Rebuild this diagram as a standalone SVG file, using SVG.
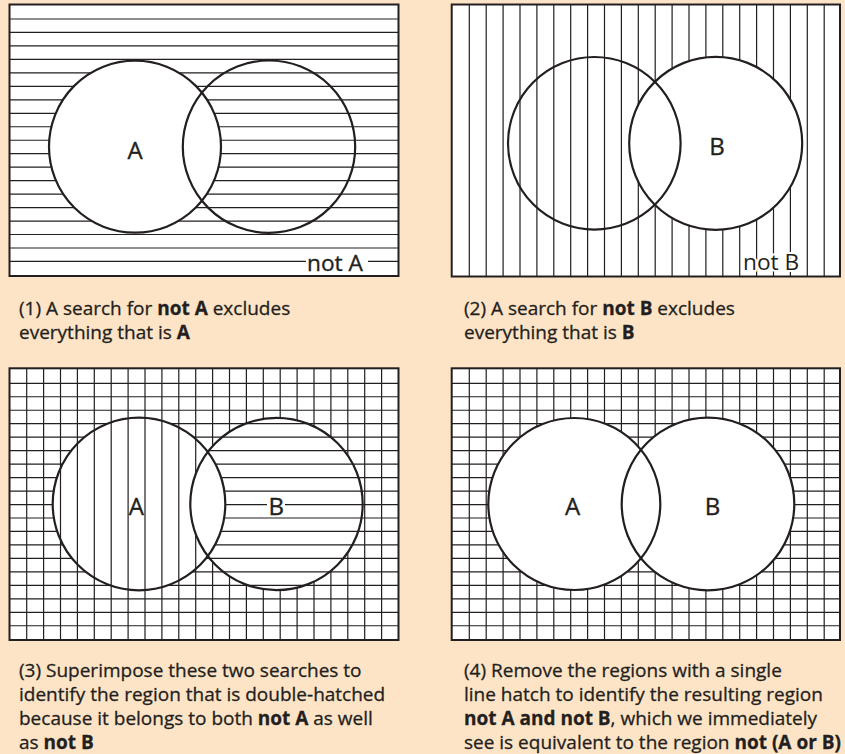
<svg xmlns="http://www.w3.org/2000/svg" xmlns:xlink="http://www.w3.org/1999/xlink" width="845" height="754" viewBox="0 0 845 754">
<style>
.bg{fill:#FEE4C6}
.panel{fill:#ffffff;stroke:none}
.frame{fill:none;stroke:#231F20;stroke-width:2}
.hatch{fill:none;stroke:#231F20;stroke-width:1.2}
.ring{fill:none;stroke:#231F20;stroke-width:2.2}
.hole{fill:#ffffff;stroke:none}
.lbl{font-family:"Open Sans","Noto Sans",sans-serif;font-size:24px;fill:#231F20;stroke:#231F20;stroke-width:0.35;text-anchor:middle}
.tag{font-family:"Open Sans","Noto Sans",sans-serif;font-size:22.7px;fill:#231F20;stroke:#231F20;stroke-width:0.35}
.halo{stroke:#ffffff;stroke-width:4;paint-order:stroke;stroke-linejoin:round}
.cap{font-family:"Open Sans","Noto Sans",sans-serif;font-size:19px;fill:#231F20;stroke:#231F20;stroke-width:0.3}
.b{font-weight:700}
</style>
<defs>
<path id="hlines" class="hatch" d="M0 0H389M0 13.47H389M0 26.94H389M0 40.41H389M0 53.88H389M0 67.35H389M0 80.82H389M0 94.29H389M0 107.76H389M0 121.23H389M0 134.7H389M0 148.17H389M0 161.64H389M0 175.11H389M0 188.58H389M0 202.05H389M0 215.52H389M0 228.99H389M0 242.46H389"/>
<path id="vlines" class="hatch" d="M0 0V272M16.9 0V272M33.8 0V272M50.7 0V272M67.6 0V272M84.5 0V272M101.4 0V272M118.3 0V272M135.2 0V272M152.1 0V272M169 0V272M185.9 0V272M202.8 0V272M219.7 0V272M236.6 0V272M253.5 0V272M270.4 0V272M287.3 0V272M304.2 0V272M321.1 0V272M338 0V272M354.9 0V272"/>
<mask id="notA3" maskUnits="userSpaceOnUse" x="0" y="0" width="845" height="754">
<rect x="0" y="0" width="845" height="754" fill="#ffffff"/>
<circle cx="139" cy="504" r="86.3" fill="#000000"/>
</mask>
<mask id="notB3" maskUnits="userSpaceOnUse" x="0" y="0" width="845" height="754">
<rect x="0" y="0" width="845" height="754" fill="#ffffff"/>
<circle cx="276.5" cy="504" r="86.2" fill="#000000"/>
</mask>
</defs>
<rect class="bg" x="0" y="0" width="845" height="754"/>

<g id="panel1">
<rect class="panel" x="9.5" y="4.5" width="389" height="271.5"/>
<use xlink:href="#hlines" href="#hlines" transform="translate(9.5,19)"/>
<circle class="hole" cx="135" cy="146.7" r="86"/>
<circle class="ring" cx="135" cy="146.7" r="86"/>
<circle class="ring" cx="269" cy="146.7" r="86.2"/>
<text class="lbl" x="135" y="158.5">A</text>
<rect x="306" y="251" width="62" height="24" fill="#ffffff"/>
<text class="tag" x="307" y="271">not A</text>
<rect class="frame" x="9.5" y="4.5" width="389" height="271.5"/>
</g>

<g id="panel2">
<rect class="panel" x="451.7" y="4.5" width="388.3" height="272"/>
<use xlink:href="#vlines" href="#vlines" transform="translate(469.3,4.5)"/>
<circle class="hole" cx="715.7" cy="143.3" r="86.5"/>
<circle class="ring" cx="594.3" cy="143.3" r="86.3"/>
<circle class="ring" cx="715.7" cy="143.3" r="86.5"/>
<text class="lbl" x="717" y="154.5">B</text>
<text class="tag halo" x="743" y="269.5">not B</text>
<rect class="frame" x="451.7" y="4.5" width="388.3" height="272"/>
</g>

<g id="panel3">
<rect class="panel" x="9.5" y="368.3" width="389" height="271.7"/>
<g mask="url(#notB3)"><use xlink:href="#vlines" href="#vlines" transform="translate(26.7,368.3)"/></g>
<g mask="url(#notA3)"><use xlink:href="#hlines" href="#hlines" transform="translate(9.5,383.3)"/></g>
<circle class="ring" cx="139" cy="504" r="86.3"/>
<circle class="ring" cx="276.5" cy="504" r="86.2"/>
<text class="lbl" x="136.3" y="514.5">A</text>
<rect x="267" y="495" width="18" height="21" fill="#ffffff"/>
<text class="lbl" x="276.3" y="514.5">B</text>
<rect class="frame" x="9.5" y="368.3" width="389" height="271.7"/>
</g>

<g id="panel4">
<rect class="panel" x="451.7" y="368.3" width="388.3" height="271.7"/>
<use xlink:href="#vlines" href="#vlines" transform="translate(469.3,368.3)"/>
<use xlink:href="#hlines" href="#hlines" transform="translate(451.7,383.3)"/>
<circle class="hole" cx="574.3" cy="504" r="86"/>
<circle class="hole" cx="708" cy="504" r="86.3"/>
<circle class="ring" cx="574.3" cy="504" r="86"/>
<circle class="ring" cx="708" cy="504" r="86.3"/>
<text class="lbl" x="572.7" y="514.5">A</text>
<text class="lbl" x="712.5" y="514.5">B</text>
<rect class="frame" x="451.7" y="368.3" width="388.3" height="271.7"/>
</g>

<g id="caption1" class="cap">
<text x="19" y="315">(1) A search for <tspan class="b">not A</tspan> excludes</text>
<text x="19" y="339">everything that is <tspan class="b">A</tspan></text>
</g>
<g id="caption2" class="cap">
<text x="464" y="315">(2) A search for <tspan class="b">not B</tspan> excludes</text>
<text x="464" y="339">everything that is <tspan class="b">B</tspan></text>
</g>
<g id="caption3" class="cap">
<text x="19" y="676.5">(3) Superimpose these two searches to</text>
<text x="19" y="700.5">identify the region that is double-hatched</text>
<text x="19" y="724.5">because it belongs to both <tspan class="b">not A</tspan> as well</text>
<text x="19" y="748.5">as <tspan class="b">not B</tspan></text>
</g>
<g id="caption4" class="cap">
<text x="464" y="676.5">(4) Remove the regions with a single</text>
<text x="464" y="700.5">line hatch to identify the resulting region</text>
<text x="464" y="724.5"><tspan class="b">not A and not B</tspan>, which we immediately</text>
<text x="464" y="748.5">see is equivalent to the region <tspan class="b">not (A or B)</tspan></text>
</g>
</svg>
